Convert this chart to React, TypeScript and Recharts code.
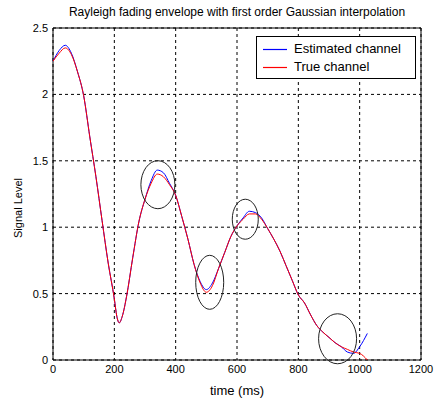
// App.tsx — Rayleigh fading envelope: estimated vs true channel, MATLAB-style look.

import {
  CartesianGrid,
  Line,
  LineChart,
  ReferenceArea,
  ReferenceDot,
  XAxis,
  YAxis,
} from "recharts";

const FONT = "Arial, 'Liberation Sans', sans-serif";

const TIME = [
  0, 20, 40, 60, 80, 100, 120, 140, 160, 180, 200, 208, 216, 226, 240, 260, 280, 300, 320, 340,
  360, 380, 400, 420, 440, 460, 480, 500, 520, 540, 560, 580, 600, 620, 640, 660, 680, 700, 720,
  740, 760, 780, 800, 820, 840, 860, 880, 900, 920, 940, 960, 980, 1000, 1025,
];
const TRUE_CH = [
  2.25, 2.31, 2.35, 2.3, 2.17, 1.99, 1.68, 1.38, 1.05, 0.73, 0.46, 0.33, 0.28, 0.33, 0.48, 0.77,
  1.04, 1.21, 1.33, 1.4, 1.38, 1.32, 1.24, 1.08, 0.91, 0.72, 0.58, 0.51, 0.56, 0.69, 0.81, 0.93,
  1.01, 1.06, 1.1, 1.1, 1.06, 0.99, 0.91, 0.82, 0.71, 0.6, 0.49, 0.43, 0.34, 0.26, 0.21, 0.17,
  0.13, 0.1, 0.08, 0.06, 0.05, 0.0,
];
const EST_CH = [
  2.25, 2.33, 2.37, 2.31, 2.17, 1.99, 1.68, 1.38, 1.05, 0.73, 0.46, 0.33, 0.28, 0.33, 0.48, 0.77,
  1.04, 1.21, 1.35, 1.43, 1.41, 1.33, 1.24, 1.08, 0.91, 0.72, 0.59, 0.53, 0.58, 0.69, 0.81, 0.93,
  1.01, 1.07, 1.12, 1.11, 1.07, 0.99, 0.91, 0.82, 0.71, 0.6, 0.49, 0.43, 0.34, 0.26, 0.21, 0.17,
  0.13, 0.1, 0.06, 0.05, 0.1, 0.2,
];

// circled regions (centre in data units)
const MARK_T = [342, 511, 627, 928];
const MARK_V = [1.32, 0.585, 1.06, 0.16];
const MARK_R: [number, number][] = [
  [17, 24],
  [14, 27],
  [13, 20],
  [19, 25],
];

const X_TICKS = [0, 200, 400, 600, 800, 1000, 1200];
const Y_TICKS = [0, 0.5, 1, 1.5, 2, 2.5];

const SERIES = [
  { key: "est", name: "Estimated channel", color: "#0000ff" },
  { key: "tru", name: "True channel", color: "#ff0000" },
];

const data = TIME.map((t, i) => ({ t, est: EST_CH[i], tru: TRUE_CH[i] }));

const tick = { fontFamily: FONT, fontSize: 11, fill: "#000" };

export default function App() {
  return (
    <div style={{ position: "fixed", left: 0, top: 0, width: 436, height: 404, background: "#fff", fontFamily: FONT }}>
      <LineChart width={436} height={404} data={data} margin={{ top: 28, right: 15, bottom: 0, left: 0 }}>
        <CartesianGrid stroke="#000" strokeDasharray="3 3" />
        <XAxis
          dataKey="t"
          type="number"
          domain={[0, 1200]}
          ticks={X_TICKS}
          height={44}
          tick={tick}
          tickLine={false}
          axisLine={false}
          tickSize={4}
          tickMargin={1}
        />
        <YAxis
          type="number"
          domain={[0, 2.5]}
          ticks={Y_TICKS}
          width={53}
          tick={tick}
          tickLine={false}
          axisLine={false}
          tickSize={3}
          tickMargin={2}
        />
        <ReferenceArea x1={0} x2={1200} y1={0} y2={2.5} stroke="#000" fill="none" fillOpacity={0} />
        {SERIES.map((s) => (
          <Line
            key={s.key}
            dataKey={s.key}
            name={s.name}
            type="monotone"
            stroke={s.color}
            strokeWidth={1}
            dot={false}
            isAnimationActive={false}
          />
        ))}
        {MARK_T.map((t, i) => (
          <ReferenceDot
            key={i}
            x={t}
            y={MARK_V[i]}
            shape={(p: any) => (
              <ellipse cx={p.cx} cy={p.cy} rx={MARK_R[i][0]} ry={MARK_R[i][1]} fill="none" stroke="#222" strokeWidth={1} />
            )}
          />
        ))}
      </LineChart>

      <div style={{ position: "absolute", left: 53, width: 368, top: 5, textAlign: "center", fontSize: 12, lineHeight: "14px" }}>
        Rayleigh fading envelope with first order Gaussian interpolation
      </div>
      <div style={{ position: "absolute", left: 53, width: 368, top: 384, textAlign: "center", fontSize: 13, lineHeight: "14px" }}>
        time (ms)
      </div>
      <div
        style={{
          position: "absolute",
          left: 18,
          top: 208,
          transform: "translate(-50%, -50%) rotate(-90deg)",
          fontSize: 11,
          lineHeight: "12px",
          whiteSpace: "nowrap",
        }}
      >
        Signal Level
      </div>

      <div
        style={{
          position: "absolute",
          left: 256,
          top: 36,
          width: 160,
          height: 43,
          boxSizing: "border-box",
          border: "1px solid #000",
          background: "#fff",
        }}
      >
        {SERIES.map((s, i) => (
          <div key={s.key} style={{ position: "absolute", left: 0, top: 5 + i * 18, height: 14, width: "100%" }}>
            <svg width={30} height={14} style={{ position: "absolute", left: 4, top: 0 }}>
              <line x1={2} x2={26} y1={7.5} y2={7.5} stroke={s.color} strokeWidth={1.2} />
            </svg>
            <div style={{ position: "absolute", left: 37, top: 0, fontSize: 13, lineHeight: "14px", whiteSpace: "nowrap" }}>
              {s.name}
            </div>
          </div>
        ))}
      </div>
    </div>
  );
}
